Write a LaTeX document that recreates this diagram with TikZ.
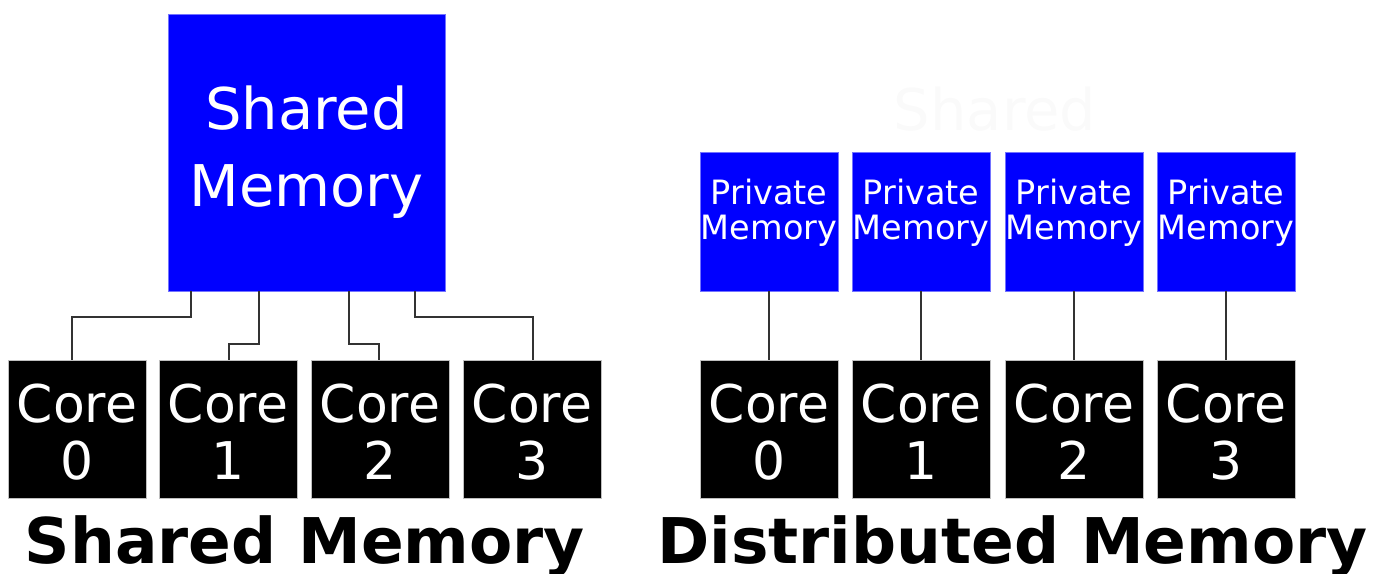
\documentclass[tikz,border=0pt]{standalone}
\usepackage{fontspec}
\setmainfont{DejaVu Sans}
\begin{document}
\begin{tikzpicture}[x=1pt,y=-1pt,
  bluebox/.style={fill=blue, draw=blue!55!white, line width=0.8pt, text=white, inner sep=0pt, align=center},
  corebox/.style={fill=black, draw=black!25, line width=0.8pt, minimum width=138pt, minimum height=138pt, inner sep=0pt},
  coretext/.style={text=white, inner sep=0pt, align=center, font=\fontsize{52}{57}\selectfont},
  pmem/.style={bluebox, minimum width=138pt, minimum height=139pt},
  ptext/.style={text=white, inner sep=0pt, align=center, font=\fontsize{33.5}{35}\selectfont},
  wire/.style={draw=black!80, line width=2pt},
  title/.style={font=\bfseries\fontsize{63}{70}\selectfont, anchor=base, inner sep=0pt}]
\useasboundingbox (0,0) rectangle (1386,573);
% ghost text
\node[text=black!2, font=\fontsize{57.5}{60}\selectfont, anchor=base, inner sep=0pt] (ghost) at (995,130) {Shared};
% shared memory side
\node[bluebox, minimum width=277pt, minimum height=277pt, font=\fontsize{57.5}{77}\selectfont] (sm) at (306.5,152.5) {Shared\\Memory};
\foreach \i/\x in {0/77,1/228,2/380,3/532}{
  \node[corebox] (c\i) at (\x,429) {};
  \node[coretext] (ct\i) at ([yshift=-3pt]c\i.center) {Core\\\i};
}
\draw[wire] ([xshift=23pt]sm.south west) -- ++(0,26) -| ([xshift=-5pt]c0.north);
\draw[wire] ([xshift=91pt]sm.south west) -- ++(0,53) -| ([xshift=1pt]c1.north);
\draw[wire] ([xshift=181pt]sm.south west) -- ++(0,53) -| ([xshift=-1pt]c2.north);
\draw[wire] ([xshift=247pt]sm.south west) -- ++(0,26) -| ([xshift=1pt]c3.north);
% distributed memory side
\foreach \i/\x in {0/769,1/921,2/1074,3/1226}{
  \node[pmem] (p\i) at (\x,221.5) {};
  \node[ptext] (pt\i) at ([yshift=9pt]p\i.center) {Private\\Memory};
  \node[corebox] (d\i) at (\x,429) {};
  \node[coretext] (dt\i) at ([yshift=-3pt]d\i.center) {Core\\\i};
  \draw[wire] (p\i.south) -- (d\i.north);
}
% titles
\node[title] (t1) at (305,563) {Shared Memory};
\node[title] (t2) at (1012.5,563) {Distributed Memory};
\end{tikzpicture}
\end{document}
